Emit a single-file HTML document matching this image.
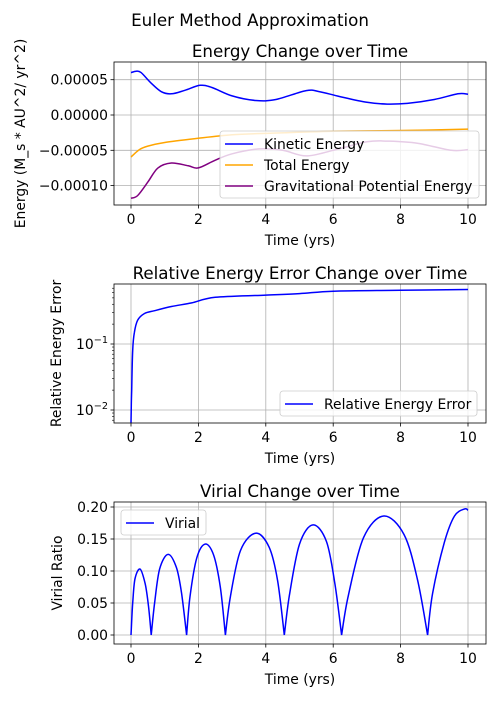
<!DOCTYPE html>
<html><head><meta charset="utf-8"><style>
body{margin:0;background:#fff;font-family:"Liberation Sans","DejaVu Sans",sans-serif}
svg text{font-family:"DejaVu Sans","Liberation Sans",sans-serif}
</style></head><body>
<svg id="c" width="500" height="700" xmlns="http://www.w3.org/2000/svg">
<rect width="500" height="700" fill="#fff"/>
<text x="250" y="26" font-size="16.7" text-anchor="middle">Euler Method Approximation</text>
</svg>
<script>
// Energy chart data
const keT=[0,0.15,0.3,0.6,0.9,1.2,1.6,2.05,2.4,3.0,3.7,4.3,5.2,5.6,6.2,7.0,7.6,8.2,9.0,9.7,10];
const keV=[6e-5,6.2e-5,6e-5,4.5e-5,3.3e-5,3.0e-5,3.5e-5,4.2e-5,3.9e-5,2.7e-5,2.05e-5,2.2e-5,3.45e-5,3.3e-5,2.6e-5,1.8e-5,1.55e-5,1.65e-5,2.2e-5,3.0e-5,2.95e-5];
const teT=[0,0.25,0.5,1,2,3,4,6,8,10];
const teV=[-5.95e-5,-4.9e-5,-4.4e-5,-3.9e-5,-3.3e-5,-2.8e-5,-2.6e-5,-2.3e-5,-2.2e-5,-2.0e-5];
const gpT=[0,0.2,0.5,0.8,1.2,1.7,2.0,2.5,3,3.8,4.5,5.2,6,7,7.6,8.5,9.5,10];
const gpV=[-1.18e-4,-1.14e-4,-0.95e-4,-0.75e-4,-0.68e-4,-0.72e-4,-0.75e-4,-0.64e-4,-0.55e-4,-0.48e-4,-0.5e-4,-0.58e-4,-0.5e-4,-0.38e-4,-0.37e-4,-0.4e-4,-0.5e-4,-0.49e-4];
// Relative error data
const reT=[0,0.01,0.02,0.05,0.1,0.2,0.4,0.7,1.2,1.8,2.5,4,5,6,8,10];
const reV=[0.0064,0.012,0.02,0.08,0.15,0.23,0.29,0.32,0.37,0.42,0.51,0.55,0.58,0.63,0.65,0.67];
// Virial data
const viT=[0,0.05,0.12,0.27,0.42,0.52,0.6,0.7,0.85,1.1,1.35,1.5,1.65,1.75,1.95,2.2,2.45,2.65,2.8,2.95,3.25,3.7,4.1,4.35,4.55,4.7,5.0,5.4,5.8,6.05,6.25,6.45,6.9,7.5,8.1,8.5,8.8,8.95,9.3,9.6,9.9,10];
const viV=[0,0.05,0.088,0.103,0.08,0.045,0,0.05,0.103,0.126,0.105,0.065,0,0.06,0.12,0.142,0.125,0.075,0,0.06,0.132,0.159,0.137,0.085,0,0.062,0.142,0.172,0.146,0.08,0,0.062,0.152,0.186,0.157,0.087,0,0.065,0.145,0.186,0.197,0.195];
const xTicks=[0,2,4,6,8,10];
const NS="http://www.w3.org/2000/svg";
const svg=document.getElementById('c');
function el(tag,attrs,parent){const e=document.createElementNS(NS,tag);for(const k in attrs)e.setAttribute(k,attrs[k]);(parent||svg).appendChild(e);return e;}
function txt(s,attrs){const e=el('text',attrs);e.textContent=s;return e;}
const L=114,R=486;
const xs=t=>131+(t/10)*337;
function panel(top,bot,ymap,yTicks,yLabels,title,ylabel,ylx,name){
  const g=el('g',{});
  
  
  for(const t of xTicks){const l=el('line',{x1:xs(t),x2:xs(t),y1:top,y2:bot,stroke:'#b0b0b0','stroke-width':0.8},g);
    el('line',{x1:xs(t),x2:xs(t),y1:bot,y2:bot+3.5,stroke:'#000','stroke-width':0.8},g);
    const tt=txt(String(t),{x:xs(t),y:bot+19,'font-size':13.9,'text-anchor':'middle'});}
  yTicks.forEach((v,i)=>{const y=ymap(v);const l=el('line',{x1:L,x2:R,y1:y,y2:y,stroke:'#b0b0b0','stroke-width':0.8},g);
    el('line',{x1:L-3.5,x2:L,y1:y,y2:y,stroke:'#000','stroke-width':0.8},g);
    if(yLabels[i]){const tt=txt('',{x:L-6,y:y+5,'font-size':13.9,'text-anchor':'end'});tt.innerHTML=yLabels[i];}});
  const tl=txt(title,{x:300,y:top-5,'font-size':16.7,'text-anchor':'middle'});
  const xl=txt('Time (yrs)',{x:300,y:bot+40,'font-size':13.9,'text-anchor':'middle'});
  const cy=(top+bot)/2;const yl=txt(ylabel,{x:0,y:0,'font-size':13.9,'text-anchor':'middle',transform:`translate(${ylx},${cy}) rotate(-90)`});
  return g;
}
function frame(top,bot){const r=el('rect',{x:L,y:top,width:R-L,height:bot-top,fill:'none',stroke:'#000','stroke-width':0.8});}
function smooth(P){let d='M'+P[0][0].toFixed(1)+','+P[0][1].toFixed(1);
  for(let i=0;i<P.length-1;i++){const p0=P[Math.max(0,i-1)],p1=P[i],p2=P[i+1],p3=P[Math.min(P.length-1,i+2)];
    const c1=[p1[0]+(p2[0]-p0[0])/6,p1[1]+(p2[1]-p0[1])/6],c2=[p2[0]-(p3[0]-p1[0])/6,p2[1]-(p3[1]-p1[1])/6];
    d+='C'+c1.map(v=>v.toFixed(1))+' '+c2.map(v=>v.toFixed(1))+' '+p2[0].toFixed(1)+','+p2[1].toFixed(1);}
  return d;}
function line(T,V,ymap,color,name,splitZero){const pts=T.map((t,i)=>[xs(t),ymap(V[i]),V[i]]);
  let d='';
  if(splitZero){let seg=[pts[0]];for(let i=1;i<pts.length;i++){seg.push(pts[i]);if(pts[i][2]===0){d+=smooth(seg);seg=[pts[i]];}}if(seg.length>1)d+=smooth(seg);}
  else d=smooth(pts);
  const p=el('path',{d:d,fill:'none',stroke:color,'stroke-width':1.5,'stroke-linejoin':'round'});}
function legend(x,y,w,entries,name){const g=el('g',{});
  el('rect',{x:x,y:y,width:w,height:entries.length*21+4,rx:3,fill:'#fff','fill-opacity':0.8,stroke:'#ccc','stroke-width':0.8},g);
  entries.forEach((e,i)=>{const yy=y+13+i*21;el('line',{x1:x+5,x2:x+33,y1:yy,y2:yy,stroke:e[1],'stroke-width':1.5},g);
    const t=txt(e[0],{x:x+44,y:yy+5,'font-size':13.9});});}
// Panel 1
const y1=v=>115-v/5e-5*35.3;
panel(62,205,y1,[5e-5,0,-5e-5,-1e-4],['0.00005','0.00000','−0.00005','−0.00010'],'Energy Change over Time','Energy (M_s * AU^2/ yr^2)',25,'energy-panel');
line(keT,keV,y1,'#0000ff','kinetic-energy-line');
line(teT,teV,y1,'#ffa500','total-energy-line');
line(gpT,gpV,y1,'#800080','gravitational-energy-line');
frame(62,205);
legend(220,131,259,[['Kinetic Energy','#0000ff'],['Total Energy','#ffa500'],['Gravitational Potential Energy','#800080']],'energy-legend');
// Panel 2 (log)
const y2=v=>344-(Math.log10(v)+1)*66;
const minors=[];for(const d of [0.001,0.01,0.1])for(let k=2;k<10;k++){const v=d*k;if(v>0.0064&&v<0.8)minors.push(v);}
panel(284,423,y2,[0.1,0.01],['10<tspan dy="-6" font-size="9.7">−1</tspan>','10<tspan dy="-6" font-size="9.7">−2</tspan>'],'Relative Energy Error Change over Time','Relative Energy Error',61,'error-panel');
minors.forEach(v=>el('line',{x1:L-2,x2:L,y1:y2(v),y2:y2(v),stroke:'#000','stroke-width':0.6}));
line(reT,reV,y2,'#0000ff','relative-error-line');
frame(284,423);
legend(280,391,197,[['Relative Energy Error','#0000ff']],'error-legend');
// Panel 3
const y3=v=>635-v*640;
panel(502,644,y3,[0,0.05,0.1,0.15,0.2],['0.00','0.05','0.10','0.15','0.20'],'Virial Change over Time','Virial Ratio',62,'virial-panel');
line(viT,viV,y3,'#0000ff','virial-line',true);
frame(502,644);
legend(121,510,85,[['Virial','#0000ff']],'virial-legend');
</script>
</body></html>
